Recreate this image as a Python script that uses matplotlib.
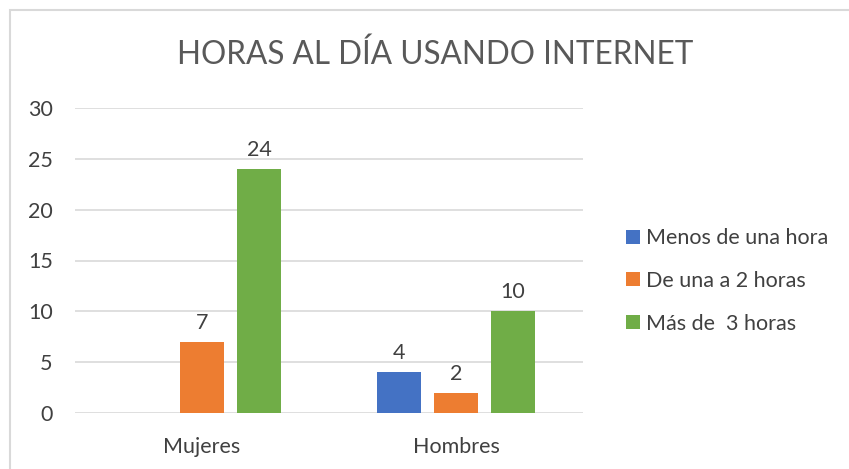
import matplotlib.pyplot as plt
import matplotlib.patches as mpatches
import numpy as np

plt.rcParams["font.family"] = ["Lato", "DejaVu Sans"]

categories = ["Mujeres", "Hombres"]
series_names = ["Menos de una hora", "De una a 2 horas", "Más de  3 horas"]
menos_una = [np.nan, 4]
una_a_dos = [7, 2]
mas_tres = [24, 10]
colors = ["#4472C4", "#ED7D31", "#70AD47"]
y_ticks = [0, 5, 10, 15, 20, 25, 30]

W, H = 849, 469
fig = plt.figure(figsize=(W / 100, H / 100), dpi=100)

# chart border (cut off at right and bottom like the screenshot)
fig.patches.append(mpatches.Rectangle((10 / W, -0.1), 1.2, (H - 10) / H + 0.1,
                                      transform=fig.transFigure, fill=False,
                                      edgecolor="#D9D9D9", linewidth=1.5))

ax = fig.add_axes([75 / W, (H - 413) / H, 508 / W, 305 / H])

x = np.arange(len(categories))
step = 0.2244
width = 0.173
text_col = "#404040"
fs = 15.5

for i, (name, vals) in enumerate(zip(series_names, [menos_una, una_a_dos, mas_tres])):
    pos = x + (i - 1) * step
    vals = np.array(vals, dtype=float)
    ax.bar(pos, vals, width, color=colors[i], label=name, zorder=3)
    for p, v in zip(pos, vals):
        if not np.isnan(v):
            ax.text(p, v + 0.9, f"{v:.0f}", ha="center", va="bottom",
                    fontsize=fs, color=text_col)

ax.set_xlim(-0.5, 1.5)
ax.set_ylim(0, 30)
ax.set_yticks(y_ticks)
ax.set_xticks(x)
ax.set_xticklabels(categories)
ax.grid(axis="y", color="#D9D9D9", linewidth=1.2, zorder=0)
for s in ax.spines.values():
    s.set_visible(False)
ax.tick_params(length=0, labelsize=fs, colors=text_col)
ax.tick_params(axis="x", pad=17)
ax.tick_params(axis="y", pad=16)

fig.text(435 / W, 1 - 55 / H, "HORAS AL DÍA USANDO INTERNET", ha="center",
         va="center", fontsize=22.7, color="#595959")

fig.legend(loc="upper left", bbox_to_anchor=(607 / W, 1 - 209 / H),
           frameon=False, fontsize=fs, handlelength=0.62, handleheight=0.62,
           handletextpad=0.3, labelspacing=1.05, labelcolor=text_col)

fig.savefig("out.png", dpi=100)
